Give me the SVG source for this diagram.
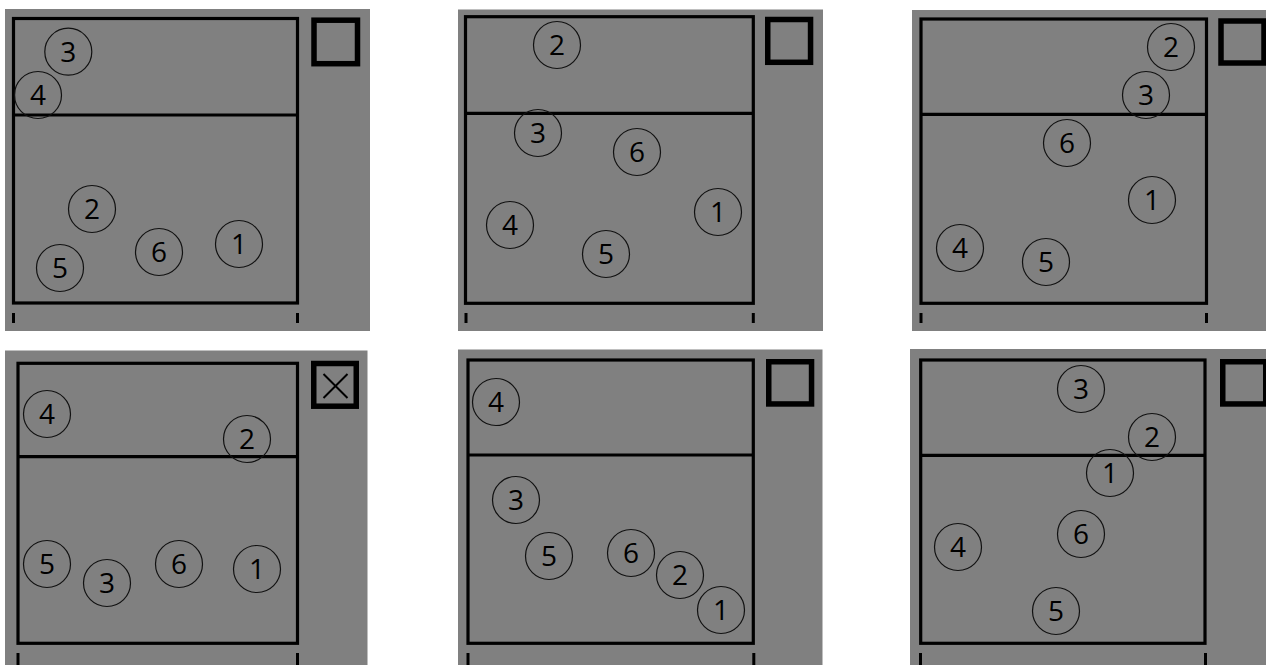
<svg xmlns="http://www.w3.org/2000/svg" width="1266" height="665" viewBox="0 0 1266 665">
<style>
.bg{fill:#808080}
.court{fill:none;stroke:#000;stroke-width:3.2}
.net{stroke:#000;stroke-width:3.2}
.box{fill:none;stroke:#000;stroke-width:5.5}
.tick{fill:#000}
.xm{stroke:#000;stroke-width:2}
.p circle{fill:none;stroke:#111;stroke-width:1.2}
.p text{font-family:"Open Sans","DejaVu Sans",sans-serif;font-size:28px;fill:#000;text-anchor:middle}
</style>
<rect width="1266" height="665" fill="#ffffff"/>

<g id="panel1">
<rect class="bg" x="5" y="9" width="365" height="322"/>
<rect class="court" x="13.5" y="18.5" width="284" height="284.5"/>
<line class="net" x1="13.5" y1="115" x2="297.5" y2="115"/>
<rect class="box" x="314" y="20.2" width="43.5" height="43.5"/>
<rect class="tick" x="12" y="313" width="3" height="10"/>
<rect class="tick" x="296" y="313" width="3" height="10"/>
<g id="p1-3" class="p"><circle cx="68.3" cy="51.7" r="23.5"/><text x="68.3" y="61.7">3</text></g>
<g id="p1-4" class="p"><circle cx="38" cy="95" r="23.5"/><text x="38" y="105">4</text></g>
<g id="p1-2" class="p"><circle cx="92" cy="209" r="23.5"/><text x="92" y="219">2</text></g>
<g id="p1-5" class="p"><circle cx="60" cy="268" r="23.5"/><text x="60" y="278">5</text></g>
<g id="p1-6" class="p"><circle cx="159" cy="252" r="23.5"/><text x="159" y="262">6</text></g>
<g id="p1-1" class="p"><circle cx="239" cy="244" r="23.5"/><text x="239" y="254">1</text></g>
</g>

<g id="panel2">
<rect class="bg" x="458" y="9.5" width="365" height="321.5"/>
<rect class="court" x="465.5" y="16.7" width="287.8" height="286.6"/>
<line class="net" x1="465.5" y1="113.3" x2="753.3" y2="113.3"/>
<rect class="box" x="767.75" y="19.5" width="42.8" height="42.8"/>
<rect class="tick" x="464.5" y="313" width="3" height="10"/>
<rect class="tick" x="751.8" y="313" width="3" height="10"/>
<g id="p2-2" class="p"><circle cx="557" cy="45" r="23.5"/><text x="557" y="55">2</text></g>
<g id="p2-3" class="p"><circle cx="538" cy="133" r="23.5"/><text x="538" y="143">3</text></g>
<g id="p2-6" class="p"><circle cx="637" cy="152" r="23.5"/><text x="637" y="162">6</text></g>
<g id="p2-4" class="p"><circle cx="510" cy="225" r="23.5"/><text x="510" y="235">4</text></g>
<g id="p2-5" class="p"><circle cx="606" cy="254" r="23.5"/><text x="606" y="264">5</text></g>
<g id="p2-1" class="p"><circle cx="718" cy="212" r="23.5"/><text x="718" y="222">1</text></g>
</g>

<g id="panel3">
<rect class="bg" x="912" y="10" width="354" height="321"/>
<rect class="court" x="921" y="19" width="285.5" height="284.3"/>
<line class="net" x1="921" y1="114.3" x2="1206.5" y2="114.3"/>
<rect class="box" x="1221" y="21" width="43" height="42"/>
<rect class="tick" x="919.5" y="313" width="3" height="10"/>
<rect class="tick" x="1205" y="313" width="3" height="10"/>
<g id="p3-2" class="p"><circle cx="1171" cy="47" r="23.5"/><text x="1171" y="57">2</text></g>
<g id="p3-3" class="p"><circle cx="1146" cy="95" r="23.5"/><text x="1146" y="105">3</text></g>
<g id="p3-6" class="p"><circle cx="1067" cy="143" r="23.5"/><text x="1067" y="153">6</text></g>
<g id="p3-1" class="p"><circle cx="1152" cy="200" r="23.5"/><text x="1152" y="210">1</text></g>
<g id="p3-4" class="p"><circle cx="960" cy="248" r="23.5"/><text x="960" y="258">4</text></g>
<g id="p3-5" class="p"><circle cx="1046" cy="262" r="23.5"/><text x="1046" y="272">5</text></g>
</g>

<g id="panel4">
<rect class="bg" x="5" y="350.5" width="362.5" height="314.5"/>
<rect class="court" x="18" y="363.3" width="279.5" height="280"/>
<line class="net" x1="18" y1="456.7" x2="297.5" y2="456.7"/>
<rect class="box" x="313.75" y="363.5" width="42.5" height="42.7"/>
<line class="xm" x1="323.5" y1="374" x2="347.5" y2="398"/>
<line class="xm" x1="347.5" y1="374" x2="323.5" y2="398"/>
<rect class="tick" x="16.5" y="653" width="3" height="12"/>
<rect class="tick" x="296" y="653" width="3" height="12"/>
<g id="p4-4" class="p"><circle cx="47" cy="414" r="23.5"/><text x="47" y="424">4</text></g>
<g id="p4-2" class="p"><circle cx="247" cy="439" r="23.5"/><text x="247" y="449">2</text></g>
<g id="p4-5" class="p"><circle cx="47" cy="564" r="23.5"/><text x="47" y="574">5</text></g>
<g id="p4-3" class="p"><circle cx="107" cy="583" r="23.5"/><text x="107" y="593">3</text></g>
<g id="p4-6" class="p"><circle cx="179" cy="564" r="23.5"/><text x="179" y="574">6</text></g>
<g id="p4-1" class="p"><circle cx="257" cy="569" r="23.5"/><text x="257" y="579">1</text></g>
</g>

<g id="panel5">
<rect class="bg" x="458" y="349.5" width="364.5" height="315.5"/>
<rect class="court" x="468" y="360" width="285.3" height="283.3"/>
<line class="net" x1="468" y1="455" x2="753.3" y2="455"/>
<rect class="box" x="768.75" y="361.75" width="42.8" height="42.2"/>
<rect class="tick" x="466.5" y="653" width="3" height="12"/>
<rect class="tick" x="752.3" y="653" width="3" height="12"/>
<g id="p5-4" class="p"><circle cx="496" cy="402" r="23.5"/><text x="496" y="412">4</text></g>
<g id="p5-3" class="p"><circle cx="516" cy="500" r="23.5"/><text x="516" y="510">3</text></g>
<g id="p5-5" class="p"><circle cx="549" cy="556" r="23.5"/><text x="549" y="566">5</text></g>
<g id="p5-6" class="p"><circle cx="631" cy="553" r="23.5"/><text x="631" y="563">6</text></g>
<g id="p5-2" class="p"><circle cx="680" cy="575" r="23.5"/><text x="680" y="585">2</text></g>
<g id="p5-1" class="p"><circle cx="721" cy="610" r="23.5"/><text x="721" y="620">1</text></g>
</g>

<g id="panel6">
<rect class="bg" x="910" y="349" width="356" height="316"/>
<rect class="court" x="920.7" y="360" width="284.3" height="283.3"/>
<line class="net" x1="920.7" y1="455.3" x2="1205" y2="455.3"/>
<rect class="box" x="1222.75" y="361.75" width="43" height="42.2"/>
<rect class="tick" x="919" y="653" width="3" height="12"/>
<rect class="tick" x="1204" y="653" width="3" height="12"/>
<g id="p6-3" class="p"><circle cx="1081" cy="389" r="23.5"/><text x="1081" y="399">3</text></g>
<g id="p6-2" class="p"><circle cx="1152" cy="437" r="23.5"/><text x="1152" y="447">2</text></g>
<g id="p6-1" class="p"><circle cx="1110" cy="473" r="23.5"/><text x="1110" y="483">1</text></g>
<g id="p6-6" class="p"><circle cx="1081" cy="534" r="23.5"/><text x="1081" y="544">6</text></g>
<g id="p6-4" class="p"><circle cx="958" cy="547" r="23.5"/><text x="958" y="557">4</text></g>
<g id="p6-5" class="p"><circle cx="1056" cy="611" r="23.5"/><text x="1056" y="621">5</text></g>
</g>
</svg>
